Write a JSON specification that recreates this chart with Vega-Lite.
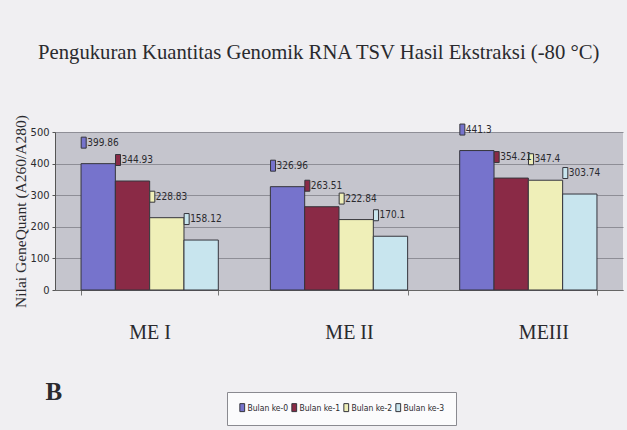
{
  "$schema": "https://vega.github.io/schema/vega-lite/v6.json",
  "width": 568,
  "height": 158,
  "autosize": "none",
  "padding": {"left": 55, "top": 132, "right": 4, "bottom": 140},
  "background": "#f0eff2",
  "title": {
    "text": "Pengukuran Kuantitas Genomik RNA TSV Hasil Ekstraksi (-80 °C)",
    "anchor": "start",
    "frame": "group",
    "orient": "top",
    "baseline": "alphabetic",
    "offset": 35,
    "dx": -17,
    "font": "Liberation Serif",
    "fontSize": 20.7,
    "fontWeight": "normal",
    "color": "#2a2a2e"
  },
  "data": {
    "values": [
      {"metode": "ME I", "bulan": "Bulan ke-0", "nilai": 399.86},
      {"metode": "ME I", "bulan": "Bulan ke-1", "nilai": 344.93},
      {"metode": "ME I", "bulan": "Bulan ke-2", "nilai": 228.83},
      {"metode": "ME I", "bulan": "Bulan ke-3", "nilai": 158.12},
      {"metode": "ME II", "bulan": "Bulan ke-0", "nilai": 326.96},
      {"metode": "ME II", "bulan": "Bulan ke-1", "nilai": 263.51},
      {"metode": "ME II", "bulan": "Bulan ke-2", "nilai": 222.84},
      {"metode": "ME II", "bulan": "Bulan ke-3", "nilai": 170.1},
      {"metode": "MEIII", "bulan": "Bulan ke-0", "nilai": 441.3},
      {"metode": "MEIII", "bulan": "Bulan ke-1", "nilai": 354.21},
      {"metode": "MEIII", "bulan": "Bulan ke-2", "nilai": 347.4},
      {"metode": "MEIII", "bulan": "Bulan ke-3", "nilai": 303.74}
    ]
  },
  "encoding": {
    "x": {
      "field": "metode",
      "type": "nominal",
      "sort": ["ME I", "ME II", "MEIII"],
      "scale": {"paddingInner": 0.275, "paddingOuter": 0.1375},
      "axis": {
        "labelAngle": 0,
        "labelFont": "Liberation Serif",
        "labelFontSize": 20,
        "labelColor": "#2a2a2e",
        "labelBaseline": "alphabetic",
        "labelPadding": 43,
        "labelOffset": {
          "condition": [
            {"test": "datum.value === 'ME II'", "value": 10},
            {"test": "datum.value === 'MEIII'", "value": 15}
          ],
          "value": 0
        },
        "tickBand": "extent",
        "tickSize": 5,
        "tickColor": "#777",
        "domainColor": "#666",
        "grid": false,
        "title": "B",
        "titleX": -10,
        "titleY": 109,
        "titleAlign": "left",
        "titleBaseline": "alphabetic",
        "titleAngle": 0,
        "titleFont": "Liberation Serif",
        "titleFontSize": 25,
        "titleFontWeight": "bold",
        "titleColor": "#2a2a2e"
      }
    },
    "xOffset": {"field": "bulan", "type": "nominal", "sort": ["Bulan ke-0", "Bulan ke-1", "Bulan ke-2", "Bulan ke-3"]},
    "y": {
      "field": "nilai",
      "type": "quantitative",
      "scale": {"domain": [0, 500], "nice": false},
      "axis": {
        "values": [0, 100, 200, 300, 400, 500],
        "labelFont": "DejaVu Sans Condensed, Liberation Sans Narrow, sans-serif",
        "labelFontSize": 11,
        "labelColor": "#2a2a2e",
        "labelPadding": 3,
        "tickSize": 3,
        "tickColor": "#555",
        "domainColor": "#555",
        "grid": true,
        "gridColor": "#8e8e96",
        "gridWidth": 1,
        "title": "Nilai GeneQuant (A260/A280)",
        "titleFont": "Liberation Serif",
        "titleFontSize": 15.5,
        "titleFontWeight": "normal",
        "titleColor": "#2a2a2e",
        "titleX": -35,
        "titleY": 79,
        "titleAngle": 270,
        "titleAlign": "center",
        "titleBaseline": "middle"
      }
    }
  },
  "layer": [
    {
      "mark": {"type": "bar", "stroke": "#35353c", "strokeWidth": 1},
      "encoding": {
        "color": {
          "field": "bulan",
          "type": "nominal",
          "scale": {
            "domain": ["Bulan ke-0", "Bulan ke-1", "Bulan ke-2", "Bulan ke-3"],
            "range": ["#7673cc", "#8a2a46", "#efefb8", "#c8e5ee"]
          },
          "legend": {
            "title": null,
            "orient": "none",
            "direction": "horizontal",
            "legendX": 172,
            "legendY": 260,
            "padding": 11,
            "columnPadding": 0,
            "labelOffset": 1,
            "labelFont": "DejaVu Sans Condensed, Liberation Sans Narrow, sans-serif",
            "labelFontSize": 8.5,
            "labelColor": "#2a2a2e",
            "symbolType": "M-0.8,-1.33H0.8V1.33H-0.8Z",
            "symbolSize": 36,
            "symbolStrokeColor": "#35353c",
            "symbolStrokeWidth": 1,
            "fillColor": "#fbfbfc",
            "strokeColor": "#8a8a90"
          }
        }
      }
    },
    {
      "mark": {"type": "point", "shape": "M-17,-26.5H-12V-15.5H-17Z", "size": 4, "filled": true, "opacity": 1, "stroke": "#35353c", "strokeWidth": 1},
      "encoding": {
        "fill": {
          "field": "bulan",
          "type": "nominal",
          "scale": {
            "domain": ["Bulan ke-0", "Bulan ke-1", "Bulan ke-2", "Bulan ke-3"],
            "range": ["#7673cc", "#8a2a46", "#efefb8", "#c8e5ee"]
          },
          "legend": null
        }
      }
    },
    {
      "mark": {
        "type": "text",
        "align": "left",
        "baseline": "middle",
        "dx": -11,
        "dy": -21,
        "font": "DejaVu Sans Condensed, Liberation Sans Narrow, sans-serif",
        "fontSize": 10,
        "color": "#2a2a2e"
      },
      "encoding": {"text": {"field": "nilai", "type": "quantitative"}}
    }
  ],
  "config": {
    "view": {"fill": "#c5c5cd", "stroke": null}
  }
}
